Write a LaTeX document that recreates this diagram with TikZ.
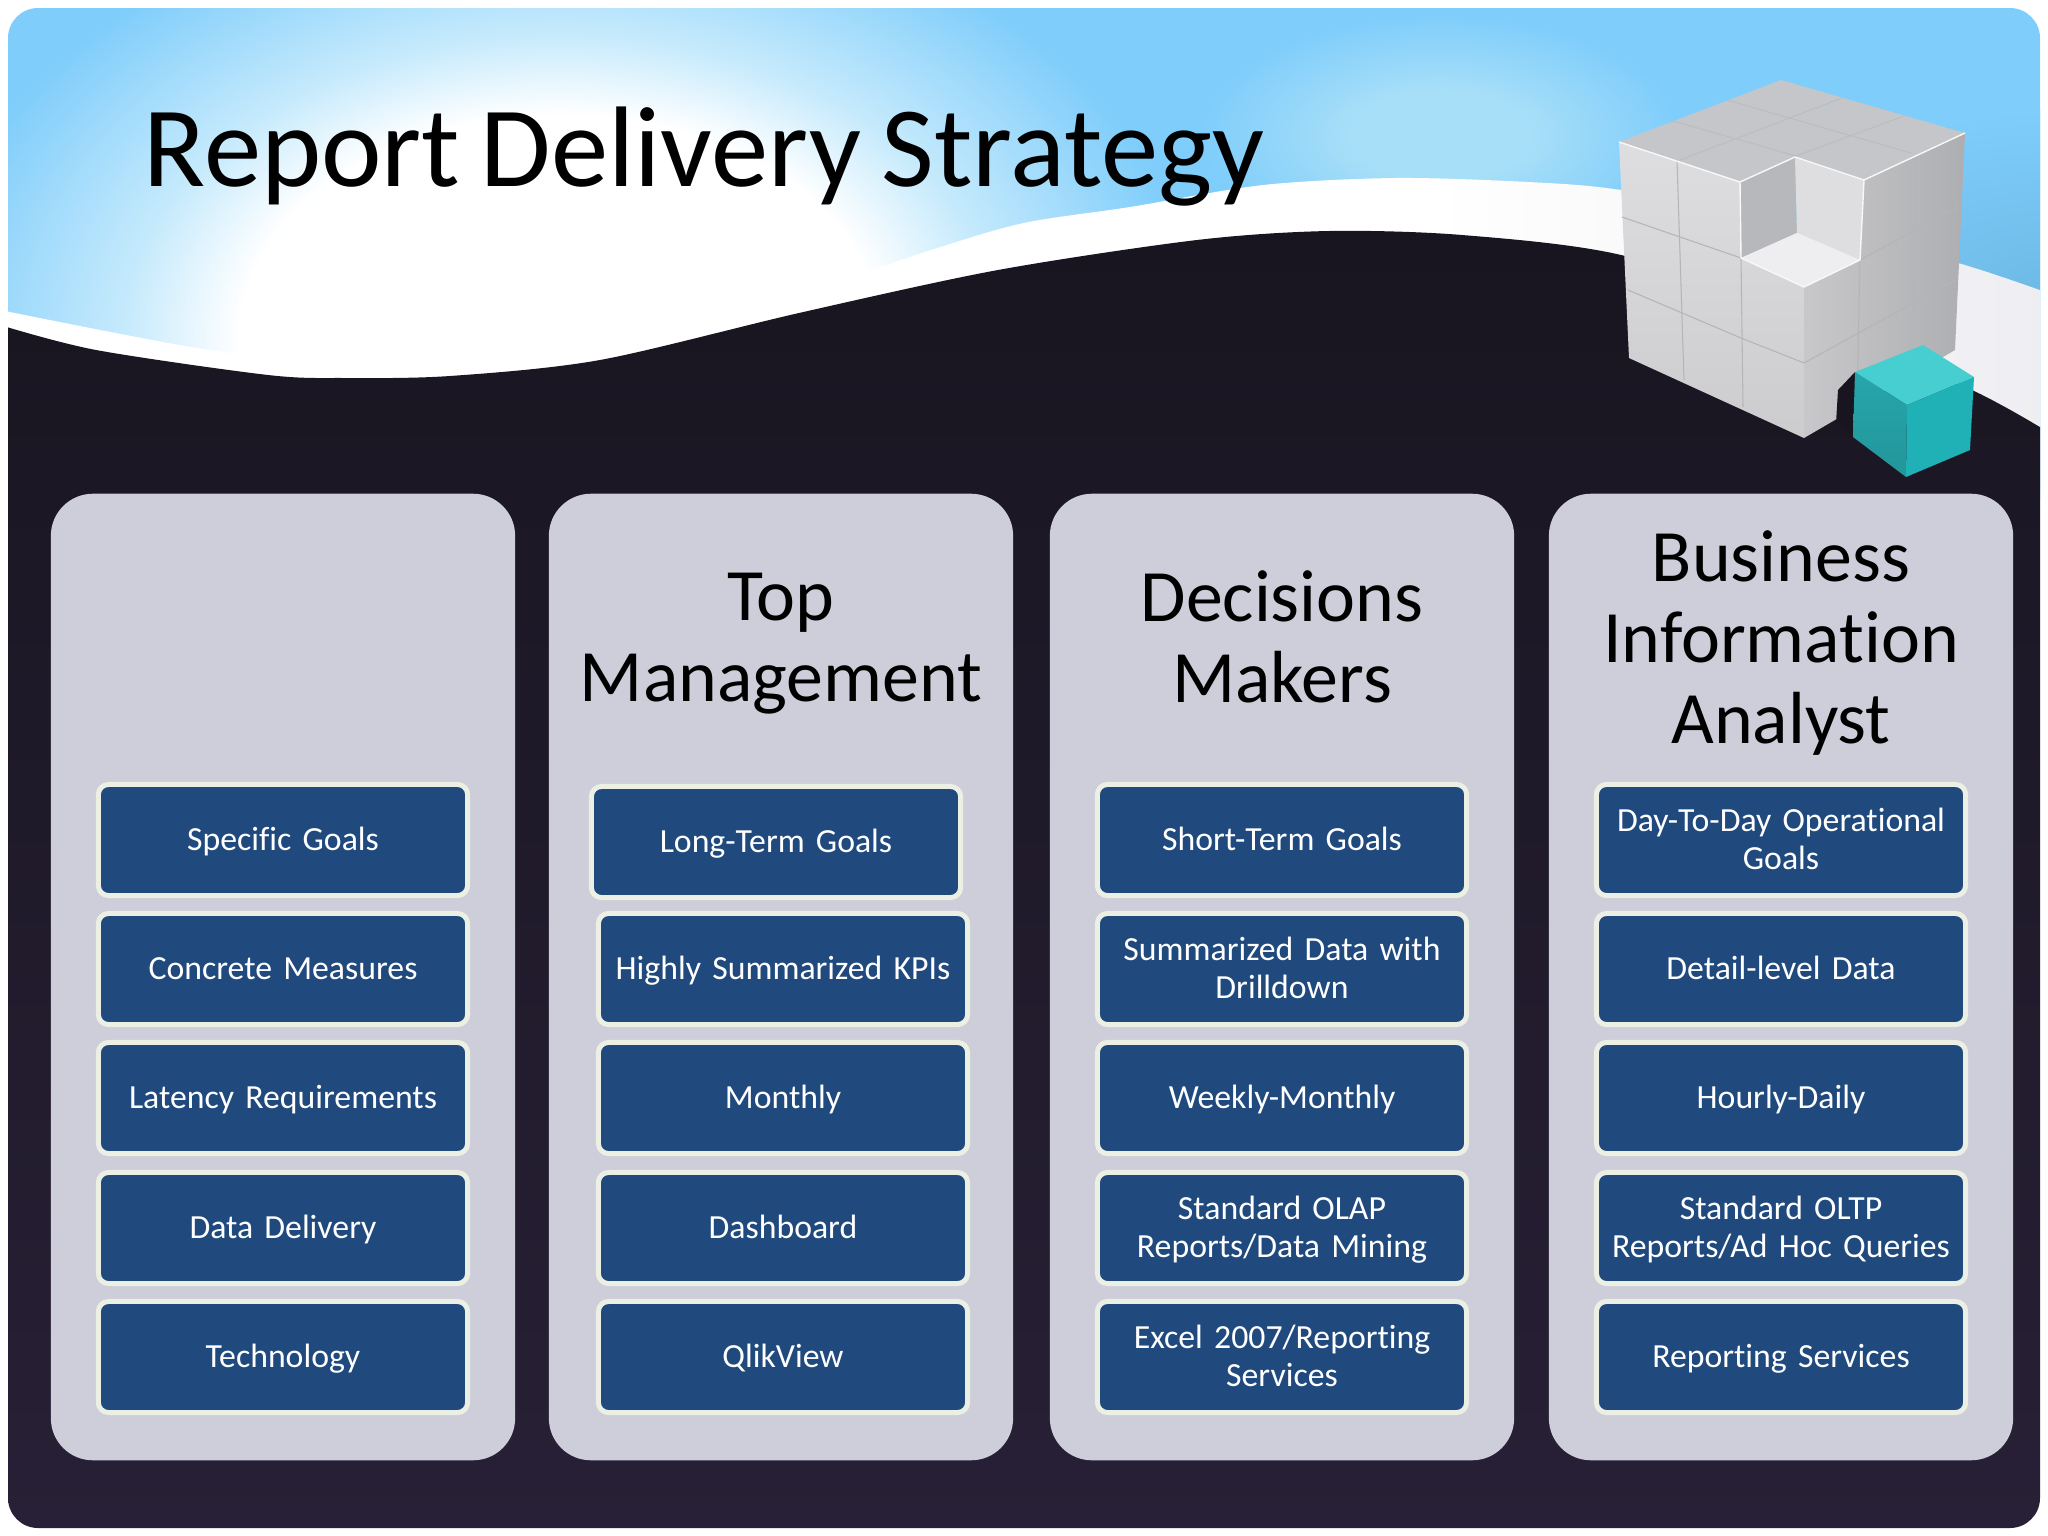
\documentclass[tikz,border=0pt]{standalone}
\usepackage{fontspec}
\setmainfont[Ligatures=NoCommon, WordSpace=0.8]{Carlito}
\definecolor{skyblue}{HTML}{7FCDFB}
\definecolor{skylight}{HTML}{A8DFF8}
\definecolor{skymid}{HTML}{C6EAFC}
\definecolor{skydeep}{HTML}{6DB9E6}
\definecolor{darktop}{HTML}{181520}
\definecolor{darkbottom}{HTML}{282036}
\definecolor{bandgrey}{HTML}{EEEEF2}
\definecolor{panelgrey}{HTML}{CDCED9}
\definecolor{boxblue}{HTML}{204A7E}
\definecolor{boxedge}{HTML}{ECEFE3}
\definecolor{cubetop}{HTML}{C5C6C9}
\definecolor{cubeleft}{HTML}{DEDEE1}
\definecolor{cubeline}{HTML}{B4B4B9}
\definecolor{tealtop}{HTML}{47CED0}
\definecolor{tealleft}{HTML}{26A6AB}
\definecolor{tealright}{HTML}{20B1B6}
\pgfdeclareradialshading{skyglow}{\pgfpointorigin}{color(0bp)=(white); color(12.5bp)=(white); color(17bp)=(skymid); color(25bp)=(skyblue); color(50bp)=(skyblue)}
\pgfdeclareradialshading{skypatch}{\pgfpointorigin}{color(0bp)=(skylight); color(9bp)=(skylight); color(25bp)=(skyblue); color(50bp)=(skyblue)}
\pgfdeclareradialshading{skycorner}{\pgfpointorigin}{color(0bp)=(skydeep); color(25bp)=(skyblue); color(50bp)=(skyblue)}
\pgfdeclarehorizontalshading{bandfade}{100bp}{color(0bp)=(white); color(60bp)=(white); color(75bp)=(bandgrey); color(100bp)=(bandgrey)}
\tikzset{
  panelbox/.style={fill=panelgrey, rounded corners=0.42cm, minimum width=4.64cm, minimum height=9.66cm},
  headtext/.style={text=black, align=center, font=\fontsize{21}{23}\selectfont,
    execute at begin node=\strut, execute at end node=\strut},
  infobox/.style={draw=boxedge, line width=0.05cm, fill=boxblue, text=white, rounded corners=0.1cm,
    minimum width=3.69cm, minimum height=1.11cm, inner sep=0pt, text width=3.45cm, align=center,
    font=\fontsize{9.6}{10.8}\selectfont, execute at begin node=\rule{0pt}{9.4pt}, execute at end node=\strut},
  gridline/.style={cubeline, line width=0.3pt},
  topline/.style={cubeline!50!cubetop, line width=0.3pt},
  edgeline/.style={white!80!cubeleft, line width=0.4pt}
}
\begin{document}
\begin{tikzpicture}[x=0.01cm, y=-0.01cm]
\useasboundingbox (0,0) rectangle (2048,1536);
\begin{scope}
\clip[rounded corners=0.3cm] (8,8) rectangle (2040,1528);
\fill[skyblue] (0,0) rectangle (2048,500);
\shade[shading=skypatch] (1440,135) ellipse (240 and 120);
\shade[shading=skycorner] (2048,300) ellipse (300 and 190);
\shade[shading=skyglow] (560,340) ellipse (640 and 450);
\shade[shading=bandfade] plot[smooth] coordinates {(0,310) (191,347) (330,364) (450,368) (700,325) (931,250) (1024,223) (1130,207) (1263,185) (1396,178) (1528,182) (1621,190) (1800,222) (1958,263) (2048,293)} -- (2048,600) -- (0,600) -- cycle;
\shade[top color=darktop, bottom color=darkbottom] plot[smooth] coordinates {(0,325) (96,350) (268,375) (344,378) (450,376) (600,360) (799,313) (998,270) (1197,240) (1329,231) (1462,235) (1621,255) (1800,315) (1972,390) (2048,432)} -- (2048,1536) -- (0,1536) -- cycle;
\end{scope}

\node[anchor=base west, text=black, inner sep=0pt, font=\fontsize{32.6}{38}\selectfont] (title) at (143,186) {Report Delivery Strategy};

\fill[cubetop] (1781,80) -- (1965,133) -- (1864,180) -- (1795,157) -- (1740,182) -- (1619,142) -- cycle;
\shade[top color=cubeleft, bottom color=cubeleft!92!black] (1619,142) -- (1740,182) -- (1741,258) -- (1804,287) -- (1804,438) -- (1629,358) -- cycle;
\fill[cubetop!93!black] (1740,182) -- (1795,157) -- (1797,233) -- (1741,258) -- cycle;
\fill[cubeleft] (1795,157) -- (1864,180) -- (1860,260) -- (1797,233) -- cycle;
\fill[cubeleft!50!white] (1741,258) -- (1797,233) -- (1860,260) -- (1804,287) -- cycle;
\shade[left color=cubeleft!90!black, right color=cubetop!88!black] (1864,180) -- (1965,133) -- (1955,350) -- (1804,438) -- (1804,287) -- (1860,260) -- cycle;
\draw[topline] (1673,121) -- (1796,156);
\draw[topline] (1727,100) -- (1911,153);
\draw[topline] (1680,160) -- (1842,98);
\draw[topline] (1796,156) -- (1904,116);
\draw[gridline] (1677,160) -- (1684,380);
\draw[gridline] (1741,258) -- (1743,407);
\draw[gridline] (1622,217) -- (1741,258);
\draw[gridline] (1628,290) -- (1741,338) -- (1804,363);
\draw[gridline] (1916,157) -- (1911,376);
\draw[gridline] (1860,260) -- (1857,404);
\draw[gridline] (1860,260) -- (1958,207);
\draw[gridline] (1804,363) -- (1955,280);
\draw[edgeline] (1619,142) -- (1740,182) -- (1795,157) -- (1864,180) -- (1965,133);
\draw[edgeline] (1741,258) -- (1804,287) -- (1860,260);
\draw[edgeline] (1740,182) -- (1741,258);
\draw[edgeline] (1864,180) -- (1860,260);

\fill[darktop] (1836,423) -- (1838,390) -- (1855,372) -- (1906,477) -- cycle;
\fill[tealtop] (1923,345) -- (1974,377) -- (1907,405) -- (1855,372) -- cycle;
\shade[top color=tealleft, bottom color=tealleft!90!black] (1855,372) -- (1907,405) -- (1906,477) -- (1853,437) -- cycle;
\fill[tealright] (1907,405) -- (1974,377) -- (1970,450) -- (1906,477) -- cycle;

\node[panelbox] (panelA) at (283,977) {};
\node[panelbox] (panelB) at (781,977) {};
\node[panelbox] (panelC) at (1282,977) {};
\node[panelbox] (panelD) at (1781,977) {};

\node[headtext] (headB) at (781,649) {Top\\Management};
\node[headtext] (headC) at (1282,649) {Decisions\\Makers};
\node[headtext] (headD) at (1781,649) {Business\\Information\\Analyst};

\node[infobox] (goalsA) at (283,840) {Specific Goals};
\node[infobox] (dataA) at (283,969) {Concrete Measures};
\node[infobox] (rateA) at (283,1098) {Latency Requirements};
\node[infobox] (viewA) at (283,1228) {Data Delivery};
\node[infobox] (toolA) at (283,1357) {Technology};

\node[infobox] (goalsB) at (776,842) {Long-Term Goals};
\node[infobox] (dataB) at (783,969) {Highly Summarized KPIs};
\node[infobox] (rateB) at (783,1098) {Monthly};
\node[infobox] (viewB) at (783,1228) {Dashboard};
\node[infobox] (toolB) at (783,1357) {QlikView};

\node[infobox] (goalsC) at (1282,840) {Short-Term Goals};
\node[infobox] (dataC) at (1282,969) {Summarized Data with\\Drilldown};
\node[infobox] (rateC) at (1282,1098) {Weekly-Monthly};
\node[infobox] (viewC) at (1282,1228) {Standard OLAP\\Reports/Data Mining};
\node[infobox] (toolC) at (1282,1357) {Excel 2007/Reporting\\Services};

\node[infobox] (goalsD) at (1781,840) {Day-To-Day Operational\\Goals};
\node[infobox] (dataD) at (1781,969) {Detail-level Data};
\node[infobox] (rateD) at (1781,1098) {Hourly-Daily};
\node[infobox] (viewD) at (1781,1228) {Standard OLTP\\Reports/Ad Hoc Queries};
\node[infobox] (toolD) at (1781,1357) {Reporting Services};
\end{tikzpicture}
\end{document}
